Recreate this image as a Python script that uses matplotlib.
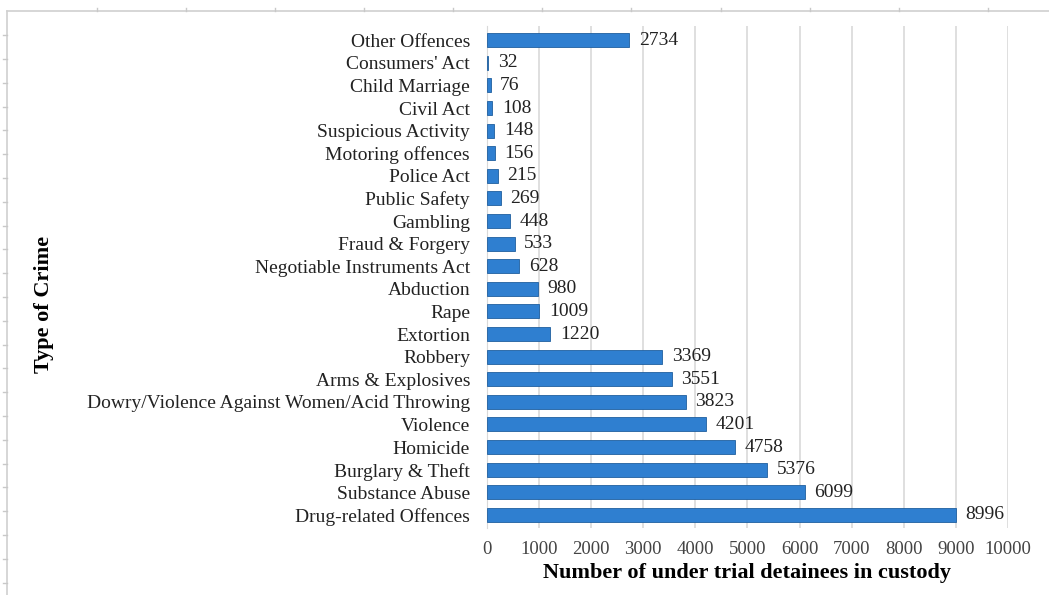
import matplotlib.pyplot as plt
from matplotlib.lines import Line2D

plt.rcParams['font.family'] = ['Liberation Serif', 'DejaVu Serif']

# categories top to bottom as shown
crimes = ["Other Offences", "Consumers' Act", "Child Marriage", "Civil Act",
          "Suspicious Activity", "Motoring offences", "Police Act", "Public Safety",
          "Gambling", "Fraud & Forgery", "Negotiable Instruments Act", "Abduction",
          "Rape", "Extortion", "Robbery", "Arms & Explosives",
          "Dowry/Violence Against Women/Acid Throwing", "Violence", "Homicide",
          "Burglary & Theft", "Substance Abuse", "Drug-related Offences"]
detainees = [2734, 32, 76, 108, 148, 156, 215, 269, 448, 533, 628, 980,
             1009, 1220, 3369, 3551, 3823, 4201, 4758, 5376, 6099, 8996]
xticks = list(range(0, 10001, 1000))

fig = plt.figure(figsize=(10.49, 5.95), dpi=100)
ax = fig.add_axes([0.464, 0.112, 0.497, 0.845])

ypos = list(range(len(crimes)))[::-1]
ax.barh(ypos, detainees, height=0.62, color="#2F7FD0", edgecolor="#1F5F9F",
        linewidth=0.6, zorder=3)
for y, v in zip(ypos, detainees):
    ax.text(v + 180, y, str(v), va="center", ha="left", fontsize=14, color="#222222")

ax.set_xlim(0, 10000)
ax.set_ylim(-0.6, len(crimes) - 0.35)
ax.set_xticks(xticks)
ax.set_xticklabels([str(t) for t in xticks], fontsize=13.5, color="#444444")
ax.set_yticks(ypos)
ax.set_yticklabels(crimes, fontsize=14, color="#222222")
ax.tick_params(axis="both", length=0)
ax.tick_params(axis="x", pad=9)
ax.tick_params(axis="y", pad=12)
ax.grid(axis="x", color="#D9D9D9", linewidth=1.2, zorder=0)
for s in ["top", "right", "bottom"]:
    ax.spines[s].set_visible(False)
ax.spines["left"].set_color("#D9D9D9")
ax.set_xlabel("Number of under trial detainees in custody", fontsize=16,
              fontweight="bold", labelpad=4)
fig.text(0.042, 0.488, "Type of Crime", rotation=90, fontsize=16,
         fontweight="bold", ha="center", va="center")

# screenshot frame lines
fig.add_artist(Line2D([0.007, 1.0], [0.981, 0.981], color="#D0D0D0", lw=1.2))
fig.add_artist(Line2D([0.007, 0.007], [0.0, 0.981], color="#D0D0D0", lw=1.2))
for i in range(1, 12):
    fig.add_artist(Line2D([0.007 + i * 0.085] * 2, [0.981, 0.986], color="#C8C8C8", lw=1))
for i in range(1, 25):
    fig.add_artist(Line2D([0.003, 0.007], [0.981 - i * 0.04] * 2, color="#C8C8C8", lw=1))

fig.savefig("out.png", dpi=100)
